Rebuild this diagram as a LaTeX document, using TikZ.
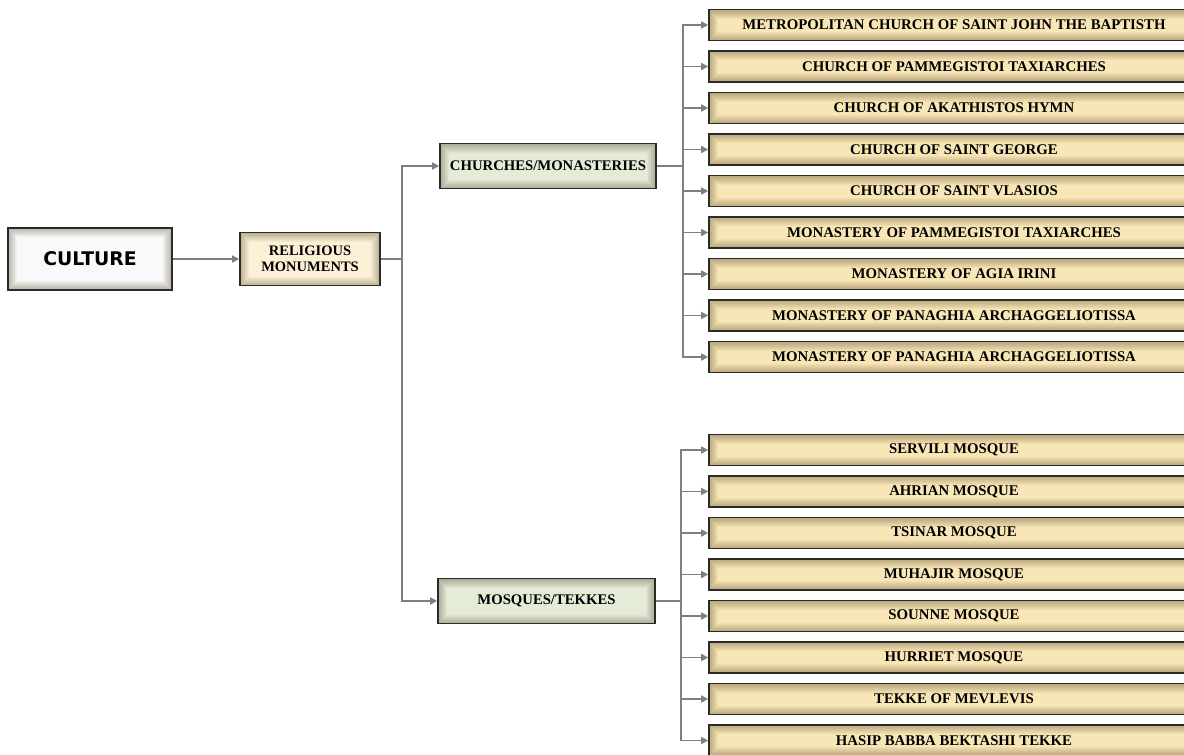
\documentclass[tikz,border=0pt]{standalone}
\usepackage{fontspec}
\setmainfont{Liberation Serif}
\newfontfamily\culturefont{DejaVu Sans}
\usetikzlibrary{arrows.meta}
\definecolor{beigeL}{HTML}{F9E6B6}
\definecolor{rmL}{HTML}{FCF1D6}
\definecolor{greenL}{HTML}{E4ECD8}
\definecolor{cultL}{HTML}{F9F9F9}
\definecolor{edge}{HTML}{2A2A2A}
\definecolor{linegray}{HTML}{7F7F7F}
\definecolor{glow}{HTML}{3A2A10}
\tikzset{
  vignette/.style={path picture={
    \foreach \w in {18,16,...,2}
      \draw[line width=\w pt, glow, opacity=0.04]
        (path picture bounding box.south west) rectangle (path picture bounding box.north east);}},
  boxbase/.style={draw=edge, line width=1.6pt, inner sep=0pt, align=center, vignette},
  leaf/.style={boxbase, fill=beigeL, minimum width=490pt, minimum height=31pt,
    font=\bfseries\fontsize{14.8}{16}\selectfont},
  group/.style={boxbase, fill=greenL, minimum height=45pt,
    font=\bfseries\fontsize{14.7}{16}\selectfont},
  rmbox/.style={boxbase, fill=rmL, minimum width=140pt, minimum height=53pt,
    font=\bfseries\fontsize{14.5}{16}\selectfont},
  cultbox/.style={boxbase, fill=cultL, line width=2pt, minimum width=164pt, minimum height=62pt,
    font=\culturefont\bfseries\fontsize{18.8}{22}\selectfont},
  wire/.style={draw=linegray, line width=1.6pt},
  conn/.style={wire, -{Triangle[length=7pt,width=7pt]}}
}
\begin{document}
\begin{tikzpicture}[x=1pt,y=-1pt]
\useasboundingbox (0,0) rectangle (1184,755);
\clip (0,0) rectangle (1184,755);

\node[cultbox] (cult) at (90,259) {CULTURE};
\node[rmbox] (rm) at (310,259) {RELIGIOUS\\MONUMENTS};
\node[group, minimum width=216pt] (ch) at (548,166) {CHURCHES/MONASTERIES};
\node[group, minimum width=217pt] (mo) at (546.5,601) {MOSQUES/TEKKES};

\node[leaf] (c1) at (954,25) {METROPOLITAN CHURCH OF SAINT JOHN THE BAPTISTH};
\node[leaf] (c2) at (954,66.5) {CHURCH OF PAMMEGISTOI TAXIARCHES};
\node[leaf] (c3) at (954,108) {CHURCH OF AKATHISTOS HYMN};
\node[leaf] (c4) at (954,149.5) {CHURCH OF SAINT GEORGE};
\node[leaf] (c5) at (954,191) {CHURCH OF SAINT VLASIOS};
\node[leaf] (c6) at (954,232.5) {MONASTERY OF PAMMEGISTOI TAXIARCHES};
\node[leaf] (c7) at (954,274) {MONASTERY OF AGIA IRINI};
\node[leaf] (c8) at (954,315.5) {MONASTERY OF PANAGHIA ARCHAGGELIOTISSA};
\node[leaf] (c9) at (954,357) {MONASTERY OF PANAGHIA ARCHAGGELIOTISSA};

\node[leaf] (m1) at (954,450) {SERVILI MOSQUE};
\node[leaf] (m2) at (954,491.5) {AHRIAN MOSQUE};
\node[leaf] (m3) at (954,533) {TSINAR MOSQUE};
\node[leaf] (m4) at (954,574.5) {MUHAJIR MOSQUE};
\node[leaf] (m5) at (954,616) {SOUNNE MOSQUE};
\node[leaf] (m6) at (954,657.5) {HURRIET MOSQUE};
\node[leaf] (m7) at (954,699) {TEKKE OF MEVLEVIS};
\node[leaf] (m8) at (954,740.5) {HASIP BABBA BEKTASHI TEKKE};

\coordinate (b1) at (402,259);
\coordinate (b2) at (683,166);
\coordinate (b3) at (681,601);

\draw[conn] (cult.east) -- (rm.west);
\draw[wire] (rm.east) -- (b1);
\draw[conn] (b1) |- (ch.west);
\draw[conn] (b1) |- (mo.west);
\draw[wire] (ch.east) -- (b2);
\foreach \n in {c1,c2,c3,c4,c5,c6,c7,c8,c9} \draw[conn] (b2) |- (\n.west);
\draw[wire] (mo.east) -- (b3);
\foreach \n in {m1,m2,m3,m4,m5,m6,m7,m8} \draw[conn] (b3) |- (\n.west);
\end{tikzpicture}
\end{document}
